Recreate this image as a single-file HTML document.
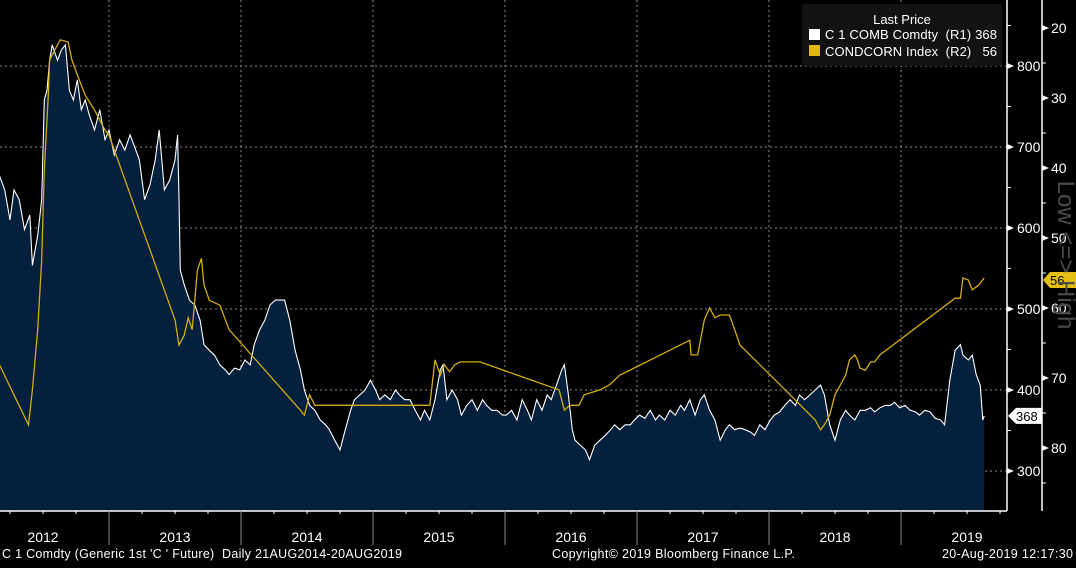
<!DOCTYPE html>
<html><head><meta charset="utf-8">
<style>
html,body{margin:0;padding:0;background:#000;}
body{width:1076px;height:563px;overflow:hidden;font-family:"Liberation Sans",sans-serif;}
svg text{font-family:"Liberation Sans",sans-serif;}
</style></head>
<body>
<svg id="chart" width="1076" height="563" viewBox="0 0 1076 563" xmlns="http://www.w3.org/2000/svg">
<rect width="1076" height="563" fill="#000"/>
<g id="grid"></g>
<g id="area"></g>
<g id="lines"></g>
<g id="axes"></g>
<text x="1058" y="255" fill="#4a4a4a" font-size="24" text-anchor="middle" transform="rotate(90 1058 255)">Low &lt;=&gt; High</text>
<g>
<rect x="802" y="4" width="200" height="62" fill="#121212" rx="2"/>
<text x="902" y="24" fill="#fff" font-size="13" text-anchor="middle">Last Price</text>
<g>
<rect x="809" y="29" width="11" height="11" fill="#fff"/>
<text x="825" y="39" fill="#fff" font-size="13" textLength="172" xml:space="preserve">C 1 COMB Comdty  (R1) 368</text></g>
<g>
<rect x="809" y="45" width="11" height="11" fill="#e0b80e"/>
<text x="825" y="56" fill="#fff" font-size="13" textLength="172" xml:space="preserve">CONDCORN Index  (R2)   56</text></g>
</g>
<text x="2" y="558" fill="#fff" font-size="12.5" textLength="400" xml:space="preserve">C 1 Comdty (Generic 1st 'C ' Future)  Daily 21AUG2014-20AUG2019</text>
<text x="552" y="558" fill="#fff" font-size="12.5" textLength="243">Copyright© 2019 Bloomberg Finance L.P.</text>
<text x="942" y="558" fill="#fff" font-size="12.5" textLength="131">20-Aug-2019 12:17:30</text>
</svg>
<script>
const priceDates=[2012.17,2012.21,2012.25,2012.28,2012.32,2012.36,2012.40,2012.42,2012.46,2012.49,2012.51,2012.53,2012.55,2012.57,2012.61,2012.64,2012.67,2012.70,2012.73,2012.76,2012.79,2012.82,2012.85,2012.89,2012.93,2012.97,2013.00,2013.04,2013.08,2013.12,2013.16,2013.19,2013.23,2013.27,2013.31,2013.35,2013.38,2013.42,2013.46,2013.50,2013.52,2013.53,2013.54,2013.57,2013.61,2013.65,2013.69,2013.72,2013.76,2013.80,2013.84,2013.88,2013.91,2013.95,2013.99,2014.03,2014.07,2014.10,2014.14,2014.18,2014.22,2014.26,2014.29,2014.33,2014.37,2014.41,2014.45,2014.48,2014.52,2014.56,2014.60,2014.64,2014.67,2014.71,2014.75,2014.79,2014.83,2014.86,2014.90,2014.94,2014.98,2015.02,2015.05,2015.09,2015.13,2015.17,2015.20,2015.24,2015.28,2015.32,2015.36,2015.39,2015.43,2015.47,2015.51,2015.53,2015.56,2015.60,2015.64,2015.67,2015.71,2015.75,2015.79,2015.83,2015.86,2015.90,2015.94,2015.98,2016.01,2016.05,2016.09,2016.13,2016.17,2016.20,2016.24,2016.28,2016.32,2016.35,2016.39,2016.43,2016.45,2016.48,2016.51,2016.53,2016.57,2016.61,2016.64,2016.68,2016.72,2016.76,2016.80,2016.83,2016.87,2016.91,2016.95,2016.98,2017.02,2017.06,2017.10,2017.14,2017.17,2017.21,2017.25,2017.29,2017.33,2017.36,2017.40,2017.44,2017.48,2017.51,2017.55,2017.59,2017.63,2017.67,2017.70,2017.74,2017.78,2017.82,2017.86,2017.89,2017.93,2017.97,2018.01,2018.04,2018.08,2018.12,2018.16,2018.20,2018.23,2018.27,2018.31,2018.35,2018.39,2018.42,2018.46,2018.50,2018.54,2018.58,2018.61,2018.65,2018.69,2018.73,2018.77,2018.80,2018.84,2018.88,2018.92,2018.95,2018.99,2019.03,2019.07,2019.11,2019.14,2019.18,2019.22,2019.26,2019.30,2019.33,2019.37,2019.41,2019.45,2019.47,2019.51,2019.54,2019.57,2019.60,2019.62,2019.63];
const priceValues=[665,647,610,647,635,598,616,554,591,635,758,770,807,826,807,820,826,770,758,783,746,758,740,721,746,709,721,690,709,696,715,702,684,635,653,684,721,647,659,684,715,635,548,530,511,505,486,456,449,443,431,425,419,427,425,437,431,456,474,486,505,511,511,511,486,449,425,400,381,375,363,357,351,338,326,351,375,388,394,400,412,400,388,394,388,400,394,388,388,375,363,375,363,388,425,431,388,400,388,369,381,388,375,388,381,375,375,369,369,375,363,388,375,363,388,375,394,388,406,425,431,394,351,338,332,326,314,332,338,344,351,357,351,357,357,363,369,365,375,363,369,363,375,369,381,375,388,369,388,394,375,363,338,351,357,351,353,351,348,344,357,351,363,369,373,381,388,381,394,388,394,400,406,394,357,338,363,375,369,363,375,375,378,373,378,381,381,385,378,381,375,373,369,375,373,365,363,357,412,449,456,443,437,443,419,406,363,368];
const condDates=[2012.17,2012.39,2012.42,2012.46,2012.49,2012.51,2012.54,2012.55,2012.59,2012.63,2012.69,2012.72,2012.76,2012.82,2012.89,2012.97,2013.00,2013.50,2013.53,2013.57,2013.60,2013.63,2013.65,2013.67,2013.70,2013.72,2013.76,2013.84,2013.91,2014.45,2014.48,2014.52,2014.56,2014.60,2015.43,2015.47,2015.51,2015.54,2015.58,2015.62,2015.66,2015.81,2016.41,2016.45,2016.49,2016.56,2016.60,2016.72,2016.79,2016.87,2017.40,2017.41,2017.46,2017.51,2017.55,2017.59,2017.63,2017.67,2017.70,2017.74,2017.78,2017.93,2018.16,2018.35,2018.39,2018.42,2018.46,2018.50,2018.54,2018.58,2018.61,2018.65,2018.67,2018.69,2018.73,2018.77,2018.80,2018.84,2019.41,2019.45,2019.47,2019.51,2019.54,2019.59,2019.63];
const condValues=[68.1,76.7,71.7,63.1,53.1,40.3,29.6,24.6,23.1,21.7,22,24.6,26.7,29.6,31.7,34.6,35.3,61.7,65.3,63.9,61.4,63.1,58.9,54.6,52.9,56.7,58.9,59.6,63.1,74.6,75.3,72.4,73.9,73.9,73.9,67.4,69.6,68.1,69.1,68.1,67.7,67.7,71.7,74.6,73.9,73.9,72.4,71.7,71,69.6,64.6,66.7,66.7,61.7,60,61.4,61,61,61,63.1,65.3,68.1,72.4,76,77.4,76.7,75.3,72.4,71,69.6,67.4,66.7,67.4,68.6,68.9,67.7,67.7,66.7,58.6,58.6,55.7,56,57.4,56.7,55.7];
const yearLabels=["2012","2013","2014","2015","2016","2017","2018","2019"];
const r1Ticks=[300,400,500,600,700,800];
const r2Ticks=[20,30,40,50,60,70,80];

const NS="http://www.w3.org/2000/svg";
const PL=0,PR=1007,PB=511;
function xS(t){return 109+(t-2013)*132;}
function y1(v){return 66+(800-v)*0.81;}
function y2(v){return 28+(v-20)*7;}
function mk(tag,attrs,parent){const e=document.createElementNS(NS,tag);for(const k in attrs)e.setAttribute(k,attrs[k]);parent.appendChild(e);return e;}
const grid=document.getElementById('grid'),area=document.getElementById('area'),lines=document.getElementById('lines'),axes=document.getElementById('axes');

r1Ticks.forEach(v=>{const l=mk('line',{x1:PL,x2:PR,y1:y1(v),y2:y1(v),stroke:'#8a8a8a','stroke-width':1,'stroke-dasharray':'2,3'},grid);

});
for(let yr=2013;yr<=2019;yr++){const l=mk('line',{x1:xS(yr),x2:xS(yr),y1:0,y2:PB,stroke:'#8a8a8a','stroke-width':1,'stroke-dasharray':'2,3'},grid);

}

let pts=priceDates.map((d,i)=>xS(d).toFixed(1)+','+y1(priceValues[i]).toFixed(1));
const x0=xS(priceDates[0]),xN=xS(priceDates[priceDates.length-1]);
const ar=mk('polygon',{points:x0+','+PB+' '+pts.join(' ')+' '+xN+','+PB,fill:'#04203d'},area);


const pl=mk('polyline',{points:pts.join(' '),fill:'none',stroke:'#fff','stroke-width':1.1},lines);


const cpts=condDates.map((d,i)=>xS(d).toFixed(1)+','+y2(condValues[i]).toFixed(1));
const cl=mk('polyline',{points:cpts.join(' '),fill:'none',stroke:'#d4ac0d','stroke-width':1.3},lines);



function ln(a,name){const l=mk('line',a,axes);return l;}
ln({x1:0,x2:PR,y1:PB,y2:PB,stroke:'#fff','stroke-width':1.5},'x-axis-line');
ln({x1:PR,x2:PR,y1:0,y2:PB,stroke:'#fff','stroke-width':1.5},'r1-axis-line');
ln({x1:1042,x2:1042,y1:0,y2:PB,stroke:'#fff','stroke-width':1.5},'r2-axis-line');
for(let t=2012.0;t<=2019.76;t+=0.25){const x=xS(t);if(x<0||x>PR)continue;ln({x1:x,x2:x,y1:PB,y2:PB+3,stroke:'#fff','stroke-width':1},'x-minor-tick');}
for(let yr=2013;yr<=2019;yr++){ln({x1:xS(yr),x2:xS(yr),y1:PB,y2:545,stroke:'#888','stroke-width':1},'year-divider');}
yearLabels.forEach(s=>{const y=+s;const t=mk('text',{x:xS(y+0.5),y:542,fill:'#fff','font-size':14,'text-anchor':'middle'},axes);t.textContent=s;

});
for(let v=250;v<=850;v+=50){const y=y1(v);if(y<2||y>PB)continue;ln({x1:PR,x2:PR+4,y1:y,y2:y,stroke:'#fff','stroke-width':1},'r1-tick');}
r1Ticks.forEach(v=>{const y=y1(v);const p=mk('polygon',{points:`${PR},${y-3} ${PR+7},${y} ${PR},${y+3}`,fill:'#fff'},axes);


const t=mk('text',{x:PR+10,y:y+5,fill:'#fff','font-size':14},axes);t.textContent=v;

});
for(let v=15;v<=85;v+=5){const y=y2(v);if(y<2||y>PB)continue;ln({x1:1042,x2:1046,y1:y,y2:y,stroke:'#fff','stroke-width':1},'r2-tick');}
r2Ticks.forEach(v=>{const y=y2(v);const p=mk('polygon',{points:`1042,${y-3} 1049,${y} 1042,${y+3}`,fill:'#fff'},axes);


const t=mk('text',{x:1051,y:y+5,fill:'#fff','font-size':14},axes);t.textContent=v;

});
const lp=priceValues[priceValues.length-1],lc=condValues[condValues.length-1];
{const y=y1(lp);const g=mk('g',{},axes);
mk('polygon',{points:`1008,${y} 1016,${y-8} 1042,${y-8} 1042,${y+8} 1016,${y+8}`,fill:'#fff'},g);
const t=mk('text',{x:1016,y:y+5,fill:'#000','font-size':13},g);t.textContent=lp;}
{const y=y2(Math.round(lc));const g=mk('g',{},axes);
mk('polygon',{points:`1043,${y} 1050,${y-8} 1076,${y-8} 1076,${y+8} 1050,${y+8}`,fill:'#e6bf14'},g);
const t=mk('text',{x:1050,y:y+5,fill:'#000','font-size':13},g);t.textContent=Math.round(lc);}
</script>
</body></html>
